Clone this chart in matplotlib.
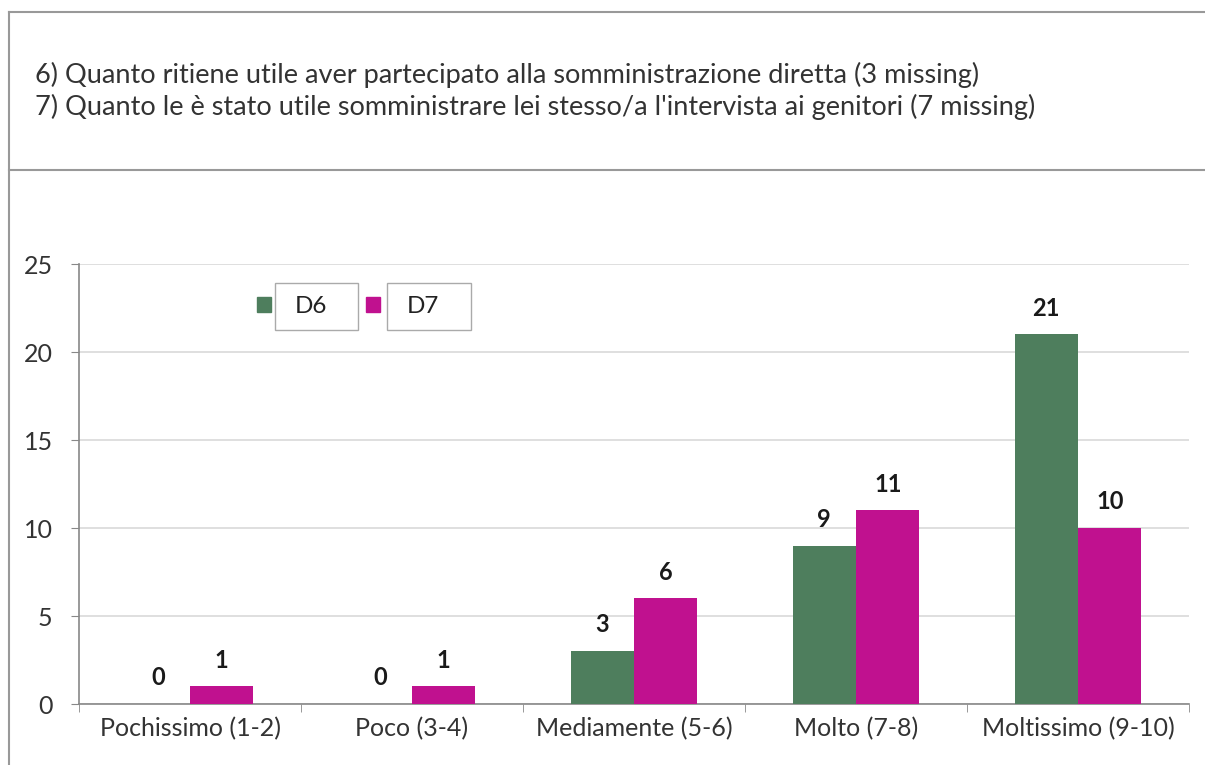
import matplotlib
matplotlib.use("Agg")
import matplotlib.pyplot as plt
from matplotlib.lines import Line2D
from matplotlib.patches import Rectangle
import numpy as np

categories = ["Pochissimo (1-2)", "Poco (3-4)", "Mediamente (5-6)", "Molto (7-8)", "Moltissimo (9-10)"]
d6 = [0, 0, 3, 9, 21]
d7 = [1, 1, 6, 11, 10]
series_names = ["D6", "D7"]
title_lines = [
    "6) Quanto ritiene utile aver partecipato alla somministrazione diretta (3 missing)",
    "7) Quanto le è stato utile somministrare lei stesso/a l'intervista ai genitori (7 missing)",
]

green = "#4E7E5D"
magenta = "#C0118F"
font = ["Lato", "DejaVu Sans"]
plt.rcParams["font.family"] = font

fig = plt.figure(figsize=(12.05, 7.65), dpi=100)
ax = fig.add_axes([79 / 1205, 61 / 765, 1110 / 1205, 440 / 765])

x = np.arange(len(categories))
w = 0.286
bars6 = ax.bar(x - w / 2, d6, w, color=green, zorder=3)
bars7 = ax.bar(x + w / 2, d7, w, color=magenta, zorder=3)

for bars, vals in [(bars6, d6), (bars7, d7)]:
    for b, v in zip(bars, vals):
        ax.annotate(str(v), (b.get_x() + b.get_width() / 2, v), xytext=(0, 19),
                    textcoords="offset points", ha="center", va="center",
                    fontsize=17, fontweight="bold", color="#1a1a1a")

ax.set_xlim(-0.5, len(categories) - 0.5)
ax.set_ylim(0, 25)
ax.set_yticks([0, 5, 10, 15, 20, 25])
ax.yaxis.grid(True, color="#d9d9d9", linewidth=1.2, zorder=0)
ax.set_xticks(x)
ax.set_xticklabels(categories, fontsize=18, color="#333333")
ax.set_xticks(np.arange(len(categories) + 1) - 0.5, minor=True)
ax.tick_params(axis="x", which="major", length=0, pad=9)
ax.tick_params(axis="x", which="minor", length=6, color="#888888", direction="out")
ax.tick_params(axis="y", length=6, color="#888888", labelsize=18, labelcolor="#333333", pad=13)
for s in ["top", "right"]:
    ax.spines[s].set_visible(False)
for s in ["left", "bottom"]:
    ax.spines[s].set_color("#888888")
    ax.spines[s].set_linewidth(1.2)

# legend: small square then boxed label, one per series
box_specs = [(0.160, 0.1766, 0.2514), (0.2585, 0.2775, 0.3530)]
for name, col, (mx, bx0, bx1) in zip(series_names, [green, magenta], box_specs):
    ax.add_patch(Rectangle((mx, 0.892), 0.0126, 0.032, transform=ax.transAxes,
                           color=col, clip_on=False, zorder=5))
    ax.add_patch(Rectangle((bx0, 0.85), bx1 - bx0, 0.107, transform=ax.transAxes,
                           facecolor="white", edgecolor="#aaaaaa", linewidth=1,
                           clip_on=False, zorder=5))
    ax.text(bx0 + 0.018, 0.9035, name, transform=ax.transAxes, fontsize=17.5,
            va="center", ha="left", color="#222222", zorder=6)

# title block with frame lines
for i, line in enumerate(title_lines):
    fig.text(35 / 1205, 1 - (75 + 32 * i) / 765, line, fontsize=19.5,
             color="#333333", va="center", ha="left")

lc = "#999999"
fig.add_artist(Line2D([9 / 1205, 1], [1 - 12 / 765] * 2, color=lc, lw=1.5))
fig.add_artist(Line2D([9 / 1205, 1], [1 - 170 / 765] * 2, color=lc, lw=1.5))
fig.add_artist(Line2D([9 / 1205] * 2, [0, 1 - 12 / 765], color=lc, lw=1.5))

fig.savefig("out.png", dpi=100)
